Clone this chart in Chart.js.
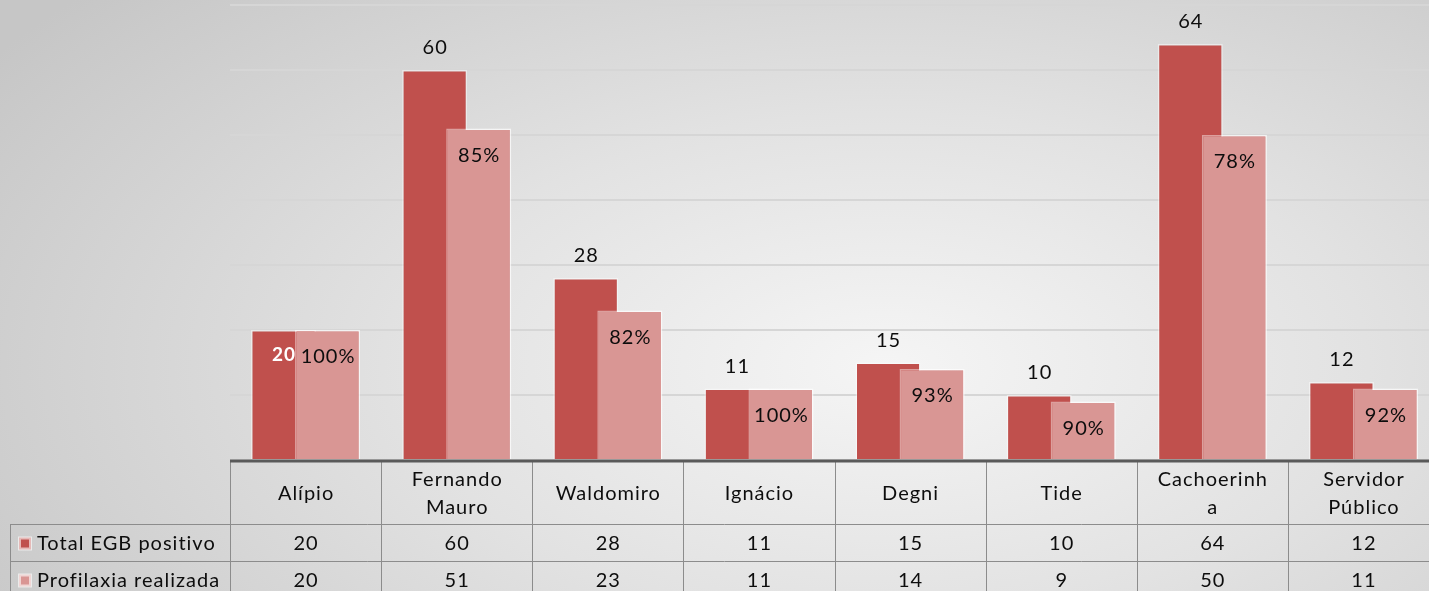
<!DOCTYPE html>
<html lang="pt-BR">
<head>
<meta charset="utf-8">
<title>Total EGB positivo e Profilaxia realizada</title>
<script src="https://cdn.jsdelivr.net/npm/chart.js@4/dist/chart.umd.min.js"></script>
<style>
  html, body { margin: 0; padding: 0; }
  body {
    width: 1429px;
    height: 591px;
    overflow: hidden;
    background: radial-gradient(ellipse 75% 95% at 62% 62%, #f5f5f5 0%, #e2e2e2 45%, #c6c6c6 100%);
  }
  /* the table runs a little past the right edge, as in the original slide */
  .chart-box { position: relative; width: 1439px; height: 591px; }
</style>
</head>
<body>
<div class="chart-box"><canvas id="chart"></canvas></div>
<script>
// Data
const categories = ["Alípio", ["Fernando", "Mauro"], "Waldomiro", "Ignácio", "Degni", "Tide", ["Cachoerinh", "a"], ["Servidor", "Público"]];
const totalEGB = [20, 60, 28, 11, 15, 10, 64, 12];
const profilaxia = [20, 51, 23, 11, 14, 9, 50, 11];
const yTicks = [0, 10, 20, 30, 40, 50, 60, 70];
const seriesNames = ["Total EGB positivo", "Profilaxia realizada"];

const FONT = "Lato, 'Noto Sans', sans-serif";
const SPACING = "1px";
const barColors = ["#C0504D", "#D99694"];

// percent of "Total" that got profilaxia
const percentLabels = profilaxia.map((v, i) => Math.round((v / totalEGB[i]) * 100) + "%");

// the first total label sits inside its bar (white, bold)
const insideLabelIndex = 0;

function centerText(ctx, text, x, y) {
  // letterSpacing adds a trailing gap, pull back half of it
  ctx.fillText(text, x + 0.5, y);
}

// Labels on the bars + pink bars drawn over the dark ones
const barLabels = {
  id: "barLabels",
  afterDatasetsDraw(chart) {
    const ctx = chart.ctx;
    const darkBars = chart.getDatasetMeta(0).data;
    const pinkBars = chart.getDatasetMeta(1).data;

    // pink overlaps the dark one
    pinkBars.forEach((bar) => bar.draw(ctx));

    ctx.save();
    ctx.letterSpacing = SPACING;
    ctx.textAlign = "center";
    ctx.textBaseline = "middle";
    darkBars.forEach((bar, i) => {
      if (i === insideLabelIndex) {
        ctx.fillStyle = "#ffffff";
        ctx.font = "bold 19px " + FONT;
        centerText(ctx, totalEGB[i], bar.x, bar.y + 25);
      } else {
        ctx.fillStyle = "#0d0d0d";
        ctx.font = "20px " + FONT;
        centerText(ctx, totalEGB[i], bar.x, bar.y - 22);
      }
    });
    ctx.fillStyle = "#0d0d0d";
    ctx.font = "20px " + FONT;
    pinkBars.forEach((bar, i) => {
      centerText(ctx, percentLabels[i], bar.x, bar.y + 27);
    });
    ctx.restore();
  },
};

// Data table under the axis
const dataTable = {
  id: "dataTable",
  afterDraw(chart) {
    const { ctx, chartArea } = chart;
    const x = chart.scales.x;
    const colW = x.width / categories.length;
    const top = chartArea.bottom;
    const headBottom = top + 64;
    const rowH = 37;
    const row1Bottom = headBottom + rowH;
    const bottom = chart.height;
    const tableLeft = 10;

    ctx.save();
    ctx.strokeStyle = "#8c8c8c";
    ctx.lineWidth = 1;
    ctx.beginPath();
    [headBottom, row1Bottom].forEach((y) => {
      ctx.moveTo(tableLeft, y + 0.5);
      ctx.lineTo(x.right, y + 0.5);
    });
    ctx.moveTo(tableLeft + 0.5, headBottom);
    ctx.lineTo(tableLeft + 0.5, bottom);
    for (let i = 0; i <= categories.length; i++) {
      const xx = Math.round(x.left + i * colW) + 0.5;
      ctx.moveTo(xx, top);
      ctx.lineTo(xx, bottom);
    }
    ctx.stroke();

    // axis line
    ctx.strokeStyle = "#5a5a5a";
    ctx.lineWidth = 3;
    ctx.beginPath();
    ctx.moveTo(x.left, top + 1);
    ctx.lineTo(x.right, top + 1);
    ctx.stroke();

    ctx.letterSpacing = SPACING;
    ctx.fillStyle = "#0d0d0d";
    ctx.font = "20px " + FONT;
    ctx.textAlign = "center";
    ctx.textBaseline = "middle";
    const headMid = (top + headBottom) / 2 + 2;
    categories.forEach((label, i) => {
      const cx = x.getPixelForValue(i);
      const lines = Array.isArray(label) ? label : [label];
      const lh = 28;
      lines.forEach((line, k) => {
        centerText(ctx, line, cx, headMid + (k - (lines.length - 1) / 2) * lh);
      });
      centerText(ctx, totalEGB[i], cx, headBottom + rowH / 2 + 1);
      centerText(ctx, profilaxia[i], cx, row1Bottom + rowH / 2 + 1);
    });

    // legend keys
    ctx.textAlign = "left";
    [totalEGB, profilaxia].forEach((s, k) => {
      const cy = headBottom + rowH / 2 + 1 + k * rowH;
      ctx.fillStyle = barColors[k];
      ctx.fillRect(19, cy - 6, 12, 12);
      ctx.strokeStyle = "rgba(255,255,255,0.6)";
      ctx.strokeRect(19.5, cy - 5.5, 11, 11);
      ctx.fillStyle = "#0d0d0d";
      ctx.fillText(seriesNames[k], 37, cy);
    });
    ctx.restore();
  },
};

const ctx = document.getElementById("chart").getContext("2d");
const chart = new Chart(ctx, {
  type: "bar",
  data: {
    labels: categories,
    datasets: [
      {
        label: seriesNames[0],
        data: totalEGB,
        backgroundColor: barColors[0],
        borderColor: "rgba(255, 255, 255, 0.45)",
        borderWidth: 1.5,
        categoryPercentage: 0.583,
        barPercentage: 1.477,
      },
      {
        label: seriesNames[1],
        data: profilaxia,
        backgroundColor: barColors[1],
        borderColor: "rgba(255, 255, 255, 0.45)",
        borderWidth: 1.5,
        categoryPercentage: 0.583,
        barPercentage: 1.477,
      },
    ],
  },
  options: {
    responsive: true,
    maintainAspectRatio: false,
    animation: false,
    layout: { padding: { top: 5, right: 0, left: 0, bottom: 0 } },
    plugins: {
      legend: { display: false },
      tooltip: { enabled: false },
    },
    scales: {
      x: {
        ticks: { display: false },
        grid: { display: false },
        border: { display: false },
        afterFit(scale) {
          scale.height = 131;
        },
      },
      y: {
        min: yTicks[0],
        max: yTicks[yTicks.length - 1],
        ticks: { display: false, stepSize: yTicks[1] - yTicks[0] },
        grid: { color: "#d6d6d6", lineWidth: 2, drawTicks: false },
        border: { display: false },
        afterFit(scale) {
          scale.width = 230;
        },
      },
    },
  },
  plugins: [barLabels, dataTable],
});
</script>
</body>
</html>
